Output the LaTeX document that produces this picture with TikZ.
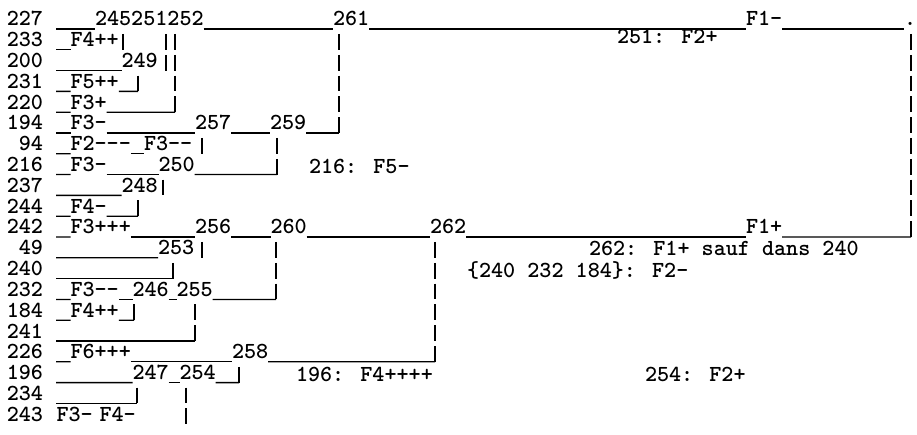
\documentclass[tikz,border=0pt]{standalone}
\usepackage{fontspec}
\usepackage{tikz}
\usetikzlibrary{positioning}
\tikzset{
  rowid/.style={anchor=base east, inner sep=0pt, outer sep=0pt,
                font=\ttfamily\bfseries\fontsize{23pt}{26pt}\selectfont},
  lbl/.style={anchor=base west, inner sep=0pt, outer sep=0pt,
              text height=12pt, text depth=3pt,
              font=\ttfamily\bfseries\fontsize{23pt}{26pt}\selectfont},
  note/.style={lbl},
  hline/.style={line width=1.3pt},
  pipe/.style={line width=1.4pt, dash pattern=on 15.8pt off 5pt, dash phase=15.8pt},
}

\begin{document}
\begin{tikzpicture}[x=1pt,y=-1pt]
  \useasboundingbox (0,0) rectangle (917,435);
  % row numbers and the start of each row line
  \foreach \id [count=\r from 0] in {227,233,200,231,220,194,94,216,237,244,
                                     242,49,240,232,184,241,226,196,234,243}{
    \node[rowid] (r\id) at (43,{26+20.8*\r}) {\id};
    \coordinate (a\id) at (56,{29+20.8*\r});
  }
  % row 227
  \node[lbl] (c245) at (95,26) {245};
  \node[lbl] (c251) at (c245.base east) {251};
  \node[lbl] (c252) at (c251.base east) {252};
  \node[lbl] (c261) at (333,26) {261};
  \node[lbl] (fneg) at (746,26) {F1-};
  \node[lbl] (dot) at (904,26) {.};
  \draw[hline] (a227) -- (c245.south west);
  \draw[hline] (c252.south east) -- (c261.south west);
  \draw[hline] (c261.south east) -- (fneg.south west);
  \draw[hline] (fneg.south east) -- (dot.south west);
  \coordinate (v245) at (123,29);
  \coordinate (v251) at (166,29);
  \coordinate (v252) at (175,29);
  \coordinate (v261) at (339,29);
  \coordinate (vroot) at (911,29);
  \draw[pipe] (v245) -- (v245 |- a233);
  \draw[pipe] (v251) -- (v251 |- a200);
  \draw[pipe] (v252) -- (v252 |- a220);
  \draw[pipe] (v261) -- (v261 |- a194);
  \draw[pipe] (vroot) -- (vroot |- a242);
  % row 233
  \node[lbl] (f233) at (70.5,46.8) {F4++};
  \draw[hline] (a233) -- (f233.south west);
  \node[note] (n251) at (617,43.5) {251: F2+};
  % row 200
  \node[lbl] (c249) at (121.5,67.6) {249};
  \draw[hline] (a200) -- (c249.south west);
  \coordinate (v249) at (138,70.6);
  \draw[pipe] (v249) -- (v249 |- a231);
  % row 231
  \node[lbl] (f231) at (70.5,88.4) {F5++};
  \draw[hline] (a231) -- (f231.south west);
  \draw[hline] (f231.south east) -- (v249 |- a231);
  % row 220
  \node[lbl] (f220) at (70.5,109.2) {F3+};
  \draw[hline] (a220) -- (f220.south west);
  \draw[hline] (f220.south east) -- (v252 |- a220);
  % row 194
  \node[lbl] (f194) at (70.5,130) {F3-};
  \node[lbl] (c257) at (195,130) {257};
  \node[lbl] (c259) at (270,130) {259};
  \draw[hline] (a194) -- (f194.south west);
  \draw[hline] (f194.south east) -- (c257.south west);
  \draw[hline] (c257.south east) -- (c259.south west);
  \draw[hline] (c259.south east) -- (v261 |- a194);
  \coordinate (v257) at (202,133);
  \coordinate (v259) at (277,133);
  \draw[pipe] (v257) -- (v257 |- a94);
  \draw[pipe] (v259) -- (v259 |- a216);
  % row 94
  \node[lbl] (f94a) at (70.5,150.8) {F2---};
  \node[lbl] (f94b) at (144,150.8) {F3--};
  \draw[hline] (a94) -- (f94a.south west);
  \draw[hline] (f94a.south east) -- (f94b.south west);
  % row 216
  \node[lbl] (f216) at (70.5,171.6) {F3-};
  \node[lbl] (c250) at (158.5,171.6) {250};
  \draw[hline] (a216) -- (f216.south west);
  \draw[hline] (f216.south east) -- (c250.south west);
  \draw[hline] (c250.south east) -- (v259 |- a216);
  \coordinate (v250) at (163,174.6);
  \draw[pipe] (v250) -- (v250 |- a237);
  \node[note] (n216) at (309,174) {216: F5-};
  % row 237
  \node[lbl] (c248) at (121.5,192.4) {248};
  \draw[hline] (a237) -- (c248.south west);
  \coordinate (v248) at (138,195.4);
  \draw[pipe] (v248) -- (v248 |- a244);
  % row 244
  \node[lbl] (f244) at (70.5,213.2) {F4-};
  \draw[hline] (a244) -- (f244.south west);
  \draw[hline] (f244.south east) -- (v248 |- a244);
  % row 242
  \node[lbl] (f242) at (70.5,234) {F3+++};
  \node[lbl] (c256) at (195,234) {256};
  \node[lbl] (c260) at (270.5,234) {260};
  \node[lbl] (c262) at (430,234) {262};
  \node[lbl] (fpos) at (746,234) {F1+};
  \draw[hline] (a242) -- (f242.south west);
  \draw[hline] (f242.south east) -- (c256.south west);
  \draw[hline] (c256.south east) -- (c260.south west);
  \draw[hline] (c260.south east) -- (c262.south west);
  \draw[hline] (c262.south east) -- (fpos.south west);
  \draw[hline] (fpos.south east) -- (vroot |- a242);
  \coordinate (v256) at (202,237);
  \coordinate (v260) at (276,237);
  \coordinate (v262) at (435,237);
  \draw[pipe] (v256) -- (v256 |- a49);
  \draw[pipe] (v260) -- (v260 |- a232);
  \draw[pipe] (v262) -- (v262 |- a226);
  % row 49
  \node[lbl] (c253) at (158,254.8) {253};
  \draw[hline] (a49) -- (c253.south west);
  \coordinate (v253) at (173,257.8);
  \draw[pipe] (v253) -- (v253 |- a240);
  \node[note] (n262) at (589,256) {262: F1+ sauf dans 240};
  % row 240
  \draw[hline] (a240) -- (v253 |- a240);
  \node[note] (n240) at (467,277) {\{240 232 184\}: F2-};
  % row 232
  \node[lbl] (f232) at (70.5,296.4) {F3--};
  \node[lbl] (c246) at (132.5,296.4) {246};
  \node[lbl] (c255) at (176.5,296.4) {255};
  \draw[hline] (a232) -- (f232.south west);
  \draw[hline] (f232.south east) -- (c246.south west);
  \draw[hline] (c246.south east) -- (c255.south west);
  \draw[hline] (c255.south east) -- (v260 |- a232);
  \coordinate (v246) at (134,299.4);
  \coordinate (v255) at (195,299.4);
  \draw[pipe] (v246) -- (v246 |- a184);
  \draw[pipe] (v255) -- (v255 |- a241);
  % row 184
  \node[lbl] (f184) at (70.5,317.2) {F4++};
  \draw[hline] (a184) -- (f184.south west);
  \draw[hline] (f184.south east) -- (v246 |- a184);
  % row 241
  \draw[hline] (a241) -- (v255 |- a241);
  % row 226
  \node[lbl] (f226) at (70.5,358.8) {F6+++};
  \node[lbl] (c258) at (232,358.8) {258};
  \draw[hline] (a226) -- (f226.south west);
  \draw[hline] (f226.south east) -- (c258.south west);
  \draw[hline] (c258.south east) -- (v262 |- a226);
  \coordinate (v258) at (239,361.8);
  \draw[pipe] (v258) -- (v258 |- a196);
  % row 196
  \node[lbl] (c247) at (132.5,379.6) {247};
  \node[lbl] (c254) at (179.5,379.6) {254};
  \draw[hline] (a196) -- (c247.south west);
  \draw[hline] (c247.south east) -- (c254.south west);
  \draw[hline] (c254.south east) -- (v258 |- a196);
  \coordinate (v247) at (137,382.6);
  \coordinate (v254) at (186,382.6);
  \draw[pipe] (v247) -- (v247 |- a234);
  \draw[pipe] (v254) -- (v254 |- a243);
  \node[note] (n196) at (296,381) {196: F4++++};
  \node[note] (n254) at (645,381) {254: F2+};
  % row 234
  \draw[hline] (a234) -- (v247 |- a234);
  % row 243
  \node[lbl] (f243a) at (56.5,421.2) {F3-};
  \node[lbl] (f243b) at (99.5,421.2) {F4-};
\end{tikzpicture}
\end{document}
